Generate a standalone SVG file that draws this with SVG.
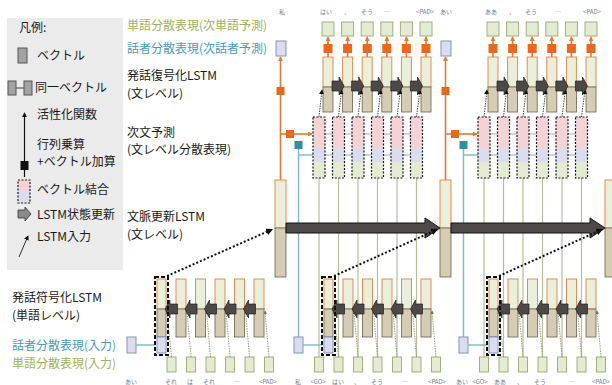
<svg xmlns="http://www.w3.org/2000/svg" xmlns:xlink="http://www.w3.org/1999/xlink" width="612" height="385" viewBox="0 0 612 385">
<style>
.t{font-family:"Noto Sans CJK JP","Noto Sans",sans-serif;font-size:12px;fill:#1a1a1a}
.tg{fill:#9fb15c}
.tt{fill:#4a9ab8}
.s{font-family:"Noto Sans CJK JP","Noto Sans",sans-serif;font-size:6px;fill:#6f7f98;text-anchor:middle}
.lu{fill:#e9efd9;stroke:#e98a4e;stroke-width:1}
.ll{fill:#d4ccb3;stroke:#6a624e;stroke-width:0.8}
.wv{fill:#e3ebd2;stroke:#a3b07a;stroke-width:1}
.sv{fill:#dcdcf0;stroke:#8096b4;stroke-width:1}
.pk{fill:#f3d3d6}
.lv{fill:#dcdcef}
.gr{fill:#e4ebd3}
.osq{fill:#e8681c}
.ol{stroke:#e8782e;stroke-width:1.6;fill:none}
.tl{stroke:#7fb6cc;stroke-width:1.4;fill:none}
.gl{stroke:#b7bd98;stroke-width:1.2;fill:none}
.garr{fill:#4d4949;stroke:#1e1e1e;stroke-width:0.7}
.dash{fill:none;stroke:#1a1a1a;stroke-width:1.2;stroke-dasharray:2 1.5}
.bdash{fill:none;stroke:#111;stroke-width:2;stroke-dasharray:4 2}
.din{stroke:#333;stroke-width:0.9;stroke-dasharray:1.5 1;fill:none}
.ein{stroke:#8c9566;stroke-width:0.9;stroke-dasharray:1.5 1;fill:none}
.dot{stroke:#111;stroke-width:2;stroke-dasharray:2 2;fill:none}
</style>
<defs>
<marker id="ao" viewBox="0 0 6 6" refX="5" refY="3" markerWidth="5" markerHeight="5" markerUnits="userSpaceOnUse" orient="auto"><path d="M0,0 L6,3 L0,6 Z" fill="#e8782e"/></marker>
<marker id="ak" viewBox="0 0 6 6" refX="5" refY="3" markerWidth="5" markerHeight="5" markerUnits="userSpaceOnUse" orient="auto"><path d="M0,0 L6,3 L0,6 Z" fill="#111"/></marker>
<marker id="ag" viewBox="0 0 6 6" refX="5" refY="3" markerWidth="3.5" markerHeight="3.5" markerUnits="userSpaceOnUse" orient="auto"><path d="M0,0 L6,3 L0,6 Z" fill="#6f7748"/></marker>
<marker id="akb" viewBox="0 0 6 6" refX="5" refY="3" markerWidth="7" markerHeight="7" markerUnits="userSpaceOnUse" orient="auto"><path d="M0,0 L6,3 L0,6 Z" fill="#111"/></marker>

<g id="tplDec">
  <rect x="275" y="180" width="11" height="48" class="lu"/>
  <rect x="275" y="228" width="11" height="49" class="ll"/>
  <line x1="280.5" y1="180" x2="280.5" y2="57" class="ol" marker-end="url(#ao)"/>
  <rect x="276.5" y="87" width="8" height="8" class="osq"/>
  <rect x="276" y="41" width="10" height="15" class="sv"/>
  <line x1="313" y1="134" x2="422" y2="134" stroke="#c9a0a0" stroke-width="1"/>
  <line x1="313" y1="155" x2="422" y2="155" stroke="#8fb0c8" stroke-width="1"/>
  <line x1="280.5" y1="134" x2="312" y2="134" class="ol" marker-end="url(#ao)"/>
  <rect x="286" y="130" width="8" height="8" class="osq"/>
  <line x1="298.5" y1="337" x2="298.5" y2="149" class="tl"/>
  <line x1="298.5" y1="155" x2="313" y2="155" class="tl"/>
  <rect x="294.5" y="141" width="8" height="8" fill="#2e8fa6"/>
  <g class="gl">
    <line x1="319" y1="178" x2="319" y2="357"/><line x1="338.5" y1="178" x2="338.5" y2="357"/>
    <line x1="358" y1="178" x2="358" y2="357"/><line x1="377.5" y1="178" x2="377.5" y2="357"/>
    <line x1="397" y1="178" x2="397" y2="357"/><line x1="416.5" y1="178" x2="416.5" y2="357"/>
  </g>
  <rect x="314.5" y="357" width="9" height="15" class="wv"/>
  <g>
    <rect x="313" y="117" width="12" height="31" class="pk"/><rect x="313" y="148" width="12" height="14" class="lv"/><rect x="313" y="162" width="12" height="16" class="gr"/><rect x="313" y="117" width="12" height="61" class="dash"/>
    <rect x="332.5" y="117" width="12" height="31" class="pk"/><rect x="332.5" y="148" width="12" height="14" class="lv"/><rect x="332.5" y="162" width="12" height="16" class="gr"/><rect x="332.5" y="117" width="12" height="61" class="dash"/>
    <rect x="352" y="117" width="12" height="31" class="pk"/><rect x="352" y="148" width="12" height="14" class="lv"/><rect x="352" y="162" width="12" height="16" class="gr"/><rect x="352" y="117" width="12" height="61" class="dash"/>
    <rect x="371.5" y="117" width="12" height="31" class="pk"/><rect x="371.5" y="148" width="12" height="14" class="lv"/><rect x="371.5" y="162" width="12" height="16" class="gr"/><rect x="371.5" y="117" width="12" height="61" class="dash"/>
    <rect x="391" y="117" width="12" height="31" class="pk"/><rect x="391" y="148" width="12" height="14" class="lv"/><rect x="391" y="162" width="12" height="16" class="gr"/><rect x="391" y="117" width="12" height="61" class="dash"/>
    <rect x="410.5" y="117" width="12" height="31" class="pk"/><rect x="410.5" y="148" width="12" height="14" class="lv"/><rect x="410.5" y="162" width="12" height="16" class="gr"/><rect x="410.5" y="117" width="12" height="61" class="dash"/>
  </g>
  <g>
    <rect x="323" y="57" width="10" height="30" class="lu"/><rect x="323" y="87" width="10" height="25" class="ll"/>
    <rect x="342.6" y="57" width="10" height="30" class="lu"/><rect x="342.6" y="87" width="10" height="25" class="ll"/>
    <rect x="362.2" y="57" width="10" height="30" class="lu"/><rect x="362.2" y="87" width="10" height="25" class="ll"/>
    <rect x="381.8" y="57" width="10" height="30" class="lu"/><rect x="381.8" y="87" width="10" height="25" class="ll"/>
    <rect x="401.4" y="57" width="10" height="30" class="lu"/><rect x="401.4" y="87" width="10" height="25" class="ll"/>
    <rect x="421" y="57" width="10" height="30" class="lu"/><rect x="421" y="87" width="10" height="25" class="ll"/>
  </g>
  <g class="din">
    <line x1="319" y1="117" x2="322" y2="90" marker-end="url(#ak)"/>
    <line x1="338.5" y1="117" x2="341.6" y2="90" marker-end="url(#ak)"/>
    <line x1="358" y1="117" x2="361.2" y2="90" marker-end="url(#ak)"/>
    <line x1="377.5" y1="117" x2="380.8" y2="90" marker-end="url(#ak)"/>
    <line x1="397" y1="117" x2="400.4" y2="90" marker-end="url(#ak)"/>
    <line x1="416.5" y1="117" x2="420" y2="90" marker-end="url(#ak)"/>
  </g>
  <g class="garr">
    <path d="M332,81 L339.1,81 L339.1,77 L344.1,86 L339.1,95 L339.1,91 L332,91 Z"/>
    <path d="M351.6,81 L358.7,81 L358.7,77 L363.7,86 L358.7,95 L358.7,91 L351.6,91 Z"/>
    <path d="M371.2,81 L378.3,81 L378.3,77 L383.3,86 L378.3,95 L378.3,91 L371.2,91 Z"/>
    <path d="M390.8,81 L397.9,81 L397.9,77 L402.9,86 L397.9,95 L397.9,91 L390.8,91 Z"/>
    <path d="M410.4,81 L417.5,81 L417.5,77 L422.5,86 L417.5,95 L417.5,91 L410.4,91 Z"/>
  </g>
  <g>
    <line x1="328" y1="57" x2="328" y2="37" class="ol" marker-end="url(#ao)"/>
    <line x1="347.6" y1="57" x2="347.6" y2="37" class="ol" marker-end="url(#ao)"/>
    <line x1="367.2" y1="57" x2="367.2" y2="37" class="ol" marker-end="url(#ao)"/>
    <line x1="386.8" y1="57" x2="386.8" y2="37" class="ol" marker-end="url(#ao)"/>
    <line x1="406.4" y1="57" x2="406.4" y2="37" class="ol" marker-end="url(#ao)"/>
    <line x1="426" y1="57" x2="426" y2="37" class="ol" marker-end="url(#ao)"/>
    <rect x="323.5" y="44" width="9" height="9" class="osq"/>
    <rect x="343.1" y="44" width="9" height="9" class="osq"/>
    <rect x="362.7" y="44" width="9" height="9" class="osq"/>
    <rect x="382.3" y="44" width="9" height="9" class="osq"/>
    <rect x="401.9" y="44" width="9" height="9" class="osq"/>
    <rect x="421.5" y="44" width="9" height="9" class="osq"/>
    <rect x="322" y="22" width="12" height="14" class="wv"/>
    <rect x="341.6" y="22" width="12" height="14" class="wv"/>
    <rect x="361.2" y="22" width="12" height="14" class="wv"/>
    <rect x="380.8" y="22" width="12" height="14" class="wv"/>
    <rect x="400.4" y="22" width="12" height="14" class="wv"/>
    <rect x="420" y="22" width="12" height="14" class="wv"/>
  </g>
</g>

<g id="tplEnc">
  <rect x="294" y="337" width="9" height="16" class="sv"/>
  <line x1="303" y1="345" x2="322" y2="345" class="tl"/>
  <rect x="334" y="357" width="9" height="15" class="wv"/>
  <rect x="353.5" y="357" width="9" height="15" class="wv"/>
  <rect x="373" y="357" width="9" height="15" class="wv"/>
  <rect x="392.5" y="357" width="9" height="15" class="wv"/>
  <rect x="412" y="357" width="9" height="15" class="wv"/>
  <rect x="431.5" y="357" width="9" height="15" class="wv"/>
  <rect x="324" y="279" width="9" height="30" class="lu"/><rect x="324" y="309" width="9" height="28" class="ll"/>
  <rect x="343" y="279" width="10" height="30" class="lu"/><rect x="343" y="309" width="10" height="28" class="ll"/>
  <rect x="362.5" y="279" width="10" height="30" class="lu"/><rect x="362.5" y="309" width="10" height="28" class="ll"/>
  <rect x="382" y="279" width="10" height="30" class="lu"/><rect x="382" y="309" width="10" height="28" class="ll"/>
  <rect x="401.5" y="279" width="10" height="30" class="lu"/><rect x="401.5" y="309" width="10" height="28" class="ll"/>
  <rect x="421" y="279" width="10" height="30" class="lu"/><rect x="421" y="309" width="10" height="28" class="ll"/>
  <rect x="324" y="337" width="9" height="16" class="sv"/>
  <g class="ein">
    <line x1="338.5" y1="357" x2="334" y2="311" marker-end="url(#ag)"/>
    <line x1="358" y1="357" x2="354" y2="311" marker-end="url(#ag)"/>
    <line x1="377.5" y1="357" x2="373.5" y2="311" marker-end="url(#ag)"/>
    <line x1="397" y1="357" x2="393" y2="311" marker-end="url(#ag)"/>
    <line x1="416.5" y1="357" x2="412.5" y2="311" marker-end="url(#ag)"/>
    <line x1="436" y1="357" x2="432" y2="311" marker-end="url(#ag)"/>
  </g>
  <g class="garr">
    <path d="M344.5,304 L337,304 L337,300 L332,309 L337,318 L337,314 L344.5,314 Z"/>
    <path d="M364,304 L357,304 L357,300 L352,309 L357,318 L357,314 L364,314 Z"/>
    <path d="M383.5,304 L376.5,304 L376.5,300 L371.5,309 L376.5,318 L376.5,314 L383.5,314 Z"/>
    <path d="M403,304 L396,304 L396,300 L391,309 L396,318 L396,314 L403,314 Z"/>
    <path d="M422.5,304 L415.5,304 L415.5,300 L410.5,309 L415.5,318 L415.5,314 L422.5,314 Z"/>
  </g>
  <rect x="322" y="277" width="13" height="78" class="bdash"/>
</g>
</defs>

<g id="legend">
  <rect x="7" y="18" width="116" height="252" fill="#ebebeb"/>
  <text x="19" y="32" class="t">凡例:</text>
  <rect x="18" y="48" width="9" height="15" fill="#a3a3a3" stroke="#555" stroke-width="1"/>
  <text x="37" y="60" class="t">ベクトル</text>
  <rect x="8" y="81" width="8" height="14" fill="#a3a3a3" stroke="#555" stroke-width="1"/>
  <line x1="16" y1="88" x2="24" y2="88" stroke="#555" stroke-width="1.2"/>
  <rect x="24" y="81" width="8" height="14" fill="#a3a3a3" stroke="#555" stroke-width="1"/>
  <text x="35" y="92" class="t">同一ベクトル</text>
  <line x1="24.5" y1="177" x2="24.5" y2="113" stroke="#111" stroke-width="1.2" marker-end="url(#ak)"/>
  <rect x="20.5" y="161" width="8" height="9" fill="#111"/>
  <text x="37" y="119" class="t">活性化関数</text>
  <text x="37" y="148.5" class="t">行列乗算</text>
  <text x="37" y="166" class="t">+ベクトル加算</text>
  <rect x="18" y="180" width="12" height="11" class="pk"/>
  <rect x="18" y="191" width="12" height="12" class="lv"/>
  <rect x="18" y="180" width="12" height="23" class="dash"/>
  <text x="37" y="194" class="t">ベクトル結合</text>
  <path d="M18,210 L25,210 L25,207 L31,214 L25,221 L25,218 L18,218 Z" fill="#8a8a8a" stroke="#333" stroke-width="0.8"/>
  <text x="37" y="219" class="t">LSTM状態更新</text>
  <line x1="19" y1="257" x2="28" y2="236" stroke="#333" stroke-width="1" marker-end="url(#ak)"/>
  <text x="37" y="241" class="t">LSTM入力</text>
</g>

<g id="labels">
  <text x="127" y="30" class="t tg">単語分散表現(次単語予測)</text>
  <text x="127" y="53" class="t tt">話者分散表現(次話者予測)</text>
  <text x="127" y="80" class="t">発話復号化LSTM</text>
  <text x="127" y="97.5" class="t">(文レベル)</text>
  <text x="127" y="136.5" class="t">次文予測</text>
  <text x="127" y="154" class="t">(文レベル分散表現)</text>
  <text x="127" y="221" class="t">文脈更新LSTM</text>
  <text x="127" y="238.5" class="t">(文レベル)</text>
  <text x="12" y="302" class="t">発話符号化LSTM</text>
  <text x="12" y="320" class="t">(単語レベル)</text>
  <text x="12" y="350" class="t tt">話者分散表現(入力)</text>
  <text x="12" y="367.5" class="t tg">単語分散表現(入力)</text>
</g>

<g id="decoder1"><use xlink:href="#tplDec" href="#tplDec"/></g>
<g id="encoder1"><use xlink:href="#tplEnc" href="#tplEnc" x="-167"/></g>
<g id="encoder2"><use xlink:href="#tplEnc" href="#tplEnc"/></g>
<g id="decoder2"><use xlink:href="#tplDec" href="#tplDec" x="165"/></g>
<g id="encoder3"><use xlink:href="#tplEnc" href="#tplEnc" x="165"/></g>

<g id="context3">
  <rect x="605" y="180" width="11" height="48" class="lu"/>
  <rect x="605" y="228" width="11" height="49" class="ll"/>
</g>

<g id="connectors">
  <path d="M286,223 L425,223 L425,218 L440,228 L425,238 L425,233 L286,233 Z" fill="#4f4a4a" stroke="#111" stroke-width="1"/>
  <path d="M451,223 L590,223 L590,218 L605,228 L590,238 L590,233 L451,233 Z" fill="#4f4a4a" stroke="#111" stroke-width="1"/>
  <line x1="167" y1="276" x2="272" y2="229.5" class="dot" marker-end="url(#akb)"/>
  <line x1="334" y1="276" x2="437" y2="229.5" class="dot" marker-end="url(#akb)"/>
  <line x1="499" y1="276" x2="602" y2="229.5" class="dot" marker-end="url(#akb)"/>
</g>

<g id="small-labels">
  <text x="282" y="14" class="s">私</text>
  <text x="326" y="14" class="s">はい</text>
  <text x="347" y="14" class="s">、</text>
  <text x="367" y="14" class="s">そう</text>
  <text x="387" y="14" class="s">…</text>
  <text x="425" y="14" class="s">&lt;PAD&gt;</text>
  <text x="446" y="14" class="s">あい</text>
  <text x="491" y="14" class="s">ああ</text>
  <text x="512" y="14" class="s">、</text>
  <text x="531" y="14" class="s">そう</text>
  <text x="558" y="14" class="s">…</text>
  <text x="592" y="14" class="s">&lt;PAD&gt;</text>
  <text x="131" y="384" class="s">あい</text>
  <text x="171" y="384" class="s">それ</text>
  <text x="190" y="384" class="s">は</text>
  <text x="209" y="384" class="s">それ</text>
  <text x="237" y="384" class="s">…</text>
  <text x="268" y="384" class="s">&lt;PAD&gt;</text>
  <text x="298" y="384" class="s">私</text>
  <text x="318" y="384" class="s">&lt;GO&gt;</text>
  <text x="338" y="384" class="s">はい</text>
  <text x="357" y="384" class="s">、</text>
  <text x="377" y="384" class="s">そう</text>
  <text x="405" y="384" class="s">…</text>
  <text x="437" y="384" class="s">&lt;PAD&gt;</text>
  <text x="462" y="384" class="s">あい</text>
  <text x="480" y="384" class="s">&lt;GO&gt;</text>
  <text x="500" y="384" class="s">ああ</text>
  <text x="520" y="384" class="s">、</text>
  <text x="540" y="384" class="s">そう</text>
  <text x="572" y="384" class="s">…</text>
  <text x="601" y="384" class="s">&lt;PAD&gt;</text>
</g>
</svg>
